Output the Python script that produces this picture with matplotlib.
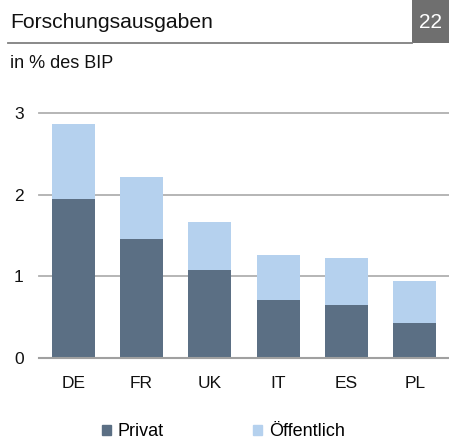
import matplotlib.pyplot as plt
from matplotlib.patches import Rectangle, Patch
from matplotlib.lines import Line2D

plt.rcParams['font.family'] = ['Liberation Sans', 'DejaVu Sans']

# Forschungsausgaben in % des BIP
countries = ["DE", "FR", "UK", "IT", "ES", "PL"]
privat = [1.95, 1.455, 1.08, 0.71, 0.65, 0.435]
oeffentlich = [0.91, 0.765, 0.58, 0.55, 0.58, 0.505]

c_dark = "#5b6f84"
c_light = "#b5d1ee"

W, H = 449, 441
fig = plt.figure(figsize=(W / 100, H / 100), dpi=100)

# header
fig.text(10 / W, 1 - 22 / H, "Forschungsausgaben", fontsize=15.2, va="center", ha="left", color="#111111")
fig.add_artist(Line2D([8 / W, 412 / W], [1 - 43.3 / H, 1 - 43.3 / H], color="#808080", lw=1.3))
fig.add_artist(Rectangle((412 / W, 1 - 43 / H), 37 / W, 43 / H, color="#6f6f6f", lw=0))
fig.text(430.5 / W, 1 - 22 / H, "22", fontsize=15, va="center", ha="center", color="white")
fig.text(10 / W, 1 - 64 / H, "in % des BIP", fontsize=13, va="center", ha="left", color="#111111")

ax = fig.add_axes([39 / W, 1 - 358.3 / H, (W - 39) / W, (358.3 - 112.7) / H])
x = range(len(countries))
ax.bar(x, privat, width=0.63, color=c_dark, label="Privat", zorder=3)
ax.bar(x, oeffentlich, width=0.63, bottom=privat, color=c_light, label="Öffentlich", zorder=3)

ax.set_xlim(-0.5, len(countries) - 0.5)
ax.set_ylim(0, 3)
ax.set_yticks([0, 1, 2, 3])
ax.set_xticks(list(x))
ax.set_xticklabels(countries)
for y in [1, 2, 3]:
    ax.axhline(y, color="#b0b0b0", lw=1.3, zorder=1, clip_on=False)
ax.axhline(0, color="#a0a0a0", lw=1.5, zorder=4, clip_on=False)
for s in ax.spines.values():
    s.set_visible(False)
ax.tick_params(axis="both", length=0, labelsize=12.5, colors="#111111")
ax.tick_params(axis="y", pad=11)
ax.tick_params(axis="x", pad=12.5)
ax.set_yticklabels(["0", "1", "2", "3"], ha="right")

handles = [Patch(color=c_dark, label="Privat"), Patch(color=c_light, label="Öffentlich")]
fig.legend(handles=handles, loc="center", bbox_to_anchor=(0.497, 0.021), ncol=2, frameon=False,
           fontsize=13, handlelength=0.5, handleheight=0.5, handletextpad=0.35,
           columnspacing=5.0, borderpad=0, borderaxespad=0)

fig.savefig("out.png", dpi=100)
